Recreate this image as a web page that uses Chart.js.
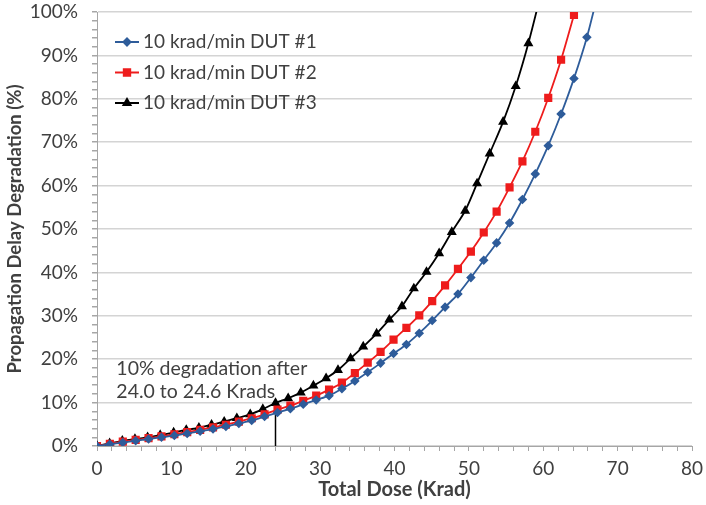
<!DOCTYPE html>
<html>
<head>
<meta charset="utf-8">
<script src="https://cdn.jsdelivr.net/npm/chart.js@4.4.0/dist/chart.umd.min.js"></script>
<style>
    html, body { margin: 0; padding: 0; background: #fff; }
    #wrap { width: 706px; height: 505px; }
</style>
</head>
<body>
<div id="wrap"><canvas id="myChart"></canvas></div>
<script>
// dose readings (Krad) for DUT #1 and #2
var doseX = [0, 1.73, 3.47, 5.2, 6.93, 8.67, 10.4, 12.13, 13.87, 15.6, 17.33, 19.07, 20.8, 22.53, 24.27, 26.0, 27.73, 29.47, 31.2, 32.93,
    34.67, 36.4, 38.13, 39.87, 41.6, 43.33, 45.07, 46.8, 48.53, 50.27, 52.0, 53.73, 55.47, 57.2, 58.93, 60.67, 62.4, 64.13, 65.87, 67.6];
var dut1 = [0, 0.4, 0.8, 1.2, 1.6, 2.0, 2.4, 2.9, 3.4, 3.9, 4.5, 5.2, 5.9, 6.8, 7.7, 8.6, 9.6, 10.6, 11.6, 13.2,
    15.0, 17.0, 19.1, 21.3, 23.4, 26.0, 28.9, 32.0, 35.0, 38.8, 42.8, 46.8, 51.4, 56.8, 62.7, 69.2, 76.5, 84.7, 94.2, 106];
var dut2 = [0, 0.5, 1.0, 1.4, 1.8, 2.2, 2.7, 3.2, 3.7, 4.3, 4.9, 5.6, 6.4, 7.3, 8.4, 9.3, 10.4, 11.6, 13.0, 14.6,
    16.8, 19.2, 21.7, 24.5, 27.2, 30.1, 33.4, 37.0, 40.8, 44.8, 49.2, 54.0, 59.6, 65.6, 72.4, 80.2, 89.0, 99.3];
// DUT #3 readings
var doseX3 = [0, 1.7, 3.4, 5.1, 6.8, 8.5, 10.3, 12.0, 13.7, 15.4, 17.1, 18.8, 20.6, 22.3, 24.0, 25.7, 27.4, 29.1, 30.8, 32.4,
    34.1, 35.8, 37.6, 39.3, 41.0, 42.6, 44.3, 46.0, 47.7, 49.5, 51.1, 52.8, 54.6, 56.3, 58.0, 59.8];
var dut3 = [0, 0.6, 1.2, 1.6, 2.0, 2.5, 3.1, 3.7, 4.2, 4.9, 5.6, 6.4, 7.3, 8.5, 9.9, 11.0, 12.3, 13.9, 15.6, 17.5,
    20.2, 22.9, 25.9, 29.1, 32.2, 36.3, 40.1, 44.4, 49.3, 54.2, 60.5, 67.4, 74.7, 82.9, 92.8, 105];

var seriesNames = ['10 krad/min DUT #1', '10 krad/min DUT #2', '10 krad/min DUT #3'];
var xTicks = [0, 10, 20, 30, 40, 50, 60, 70, 80];
var yTicks = [0, 10, 20, 30, 40, 50, 60, 70, 80, 90, 100];

// marker line at 24 Krad up to 10%
var markerX = [24, 24];
var markerY = [0, 10];
var noteLines = ['10% degradation after', '24.0 to 24.6 Krads'];
var noteX = 2.6;
var noteY = [17.9, 12.4];

var textColor = '#404040';
var fontName = 'Lato';

function pts(xs, ys){
    let out = [];
    for (let i = 0; i < ys.length; i++) {
        out.push({x: xs[i], y: ys[i]});
    }
    return out;
}

var datasets = [{
    label: seriesNames[0],
    data: pts(doseX, dut1),
    borderColor: '#2e5c9a',
    backgroundColor: '#2e5c9a',
    pointStyle: 'rectRot',
    pointRadius: 3.5,
    borderWidth: 1.8,
    tension: 0.3
}, {
    label: seriesNames[1],
    data: pts(doseX, dut2),
    borderColor: '#ee1c1c',
    backgroundColor: '#ee1c1c',
    pointStyle: 'rect',
    pointRadius: 4.5,
    borderWidth: 1.8,
    tension: 0.3
}, {
    label: seriesNames[2],
    data: pts(doseX3, dut3),
    borderColor: '#000000',
    backgroundColor: '#000000',
    pointStyle: 'triangle',
    pointRadius: 4,
    borderWidth: 1.8,
    tension: 0.3
}, {
    label: 'marker',
    data: pts(markerX, markerY),
    borderColor: '#000000',
    borderWidth: 1.5,
    pointRadius: 0,
    tension: 0
}];

const notePlugin = {
    id: 'notePlugin',
    afterDatasetsDraw(chart){
        const ctx = chart.ctx;
        const xs = chart.scales.x;
        const ys = chart.scales.y;
        ctx.save();
        ctx.fillStyle = textColor;
        ctx.font = '19.5px ' + fontName;
        ctx.textAlign = 'left';
        ctx.textBaseline = 'middle';
        for (let i = 0; i < noteLines.length; i++) {
            ctx.fillText(noteLines[i], xs.getPixelForValue(noteX), ys.getPixelForValue(noteY[i]));
        }

        // legend inside the plot, top left
        const area = chart.chartArea;
        ctx.font = '19px ' + fontName;
        for (let i = 0; i < 3; i++) {
            const ds = chart.data.datasets[i];
            const yy = area.top + 30 + i * 30.5;
            const x0 = area.left + 18;
            ctx.strokeStyle = ds.borderColor;
            ctx.lineWidth = 2;
            ctx.beginPath();
            ctx.moveTo(x0, yy);
            ctx.lineTo(x0 + 24, yy);
            ctx.stroke();
            ctx.fillStyle = ds.backgroundColor;
            Chart.helpers.drawPoint(ctx, {pointStyle: ds.pointStyle, radius: ds.pointRadius, borderWidth: 1, rotation: 0}, x0 + 12, yy);
            ctx.fillStyle = textColor;
            ctx.fillText(ds.label, x0 + 28, yy);
        }
        ctx.restore();
    }
};

new Chart('myChart', {
    type: 'line',
    data: { datasets: datasets },
    options: {
        responsive: true,
        maintainAspectRatio: false,
        animation: false,
        layout: { padding: { top: 12, right: 14, left: 0, bottom: 0 } },
        plugins: {
            legend: { display: false },
            tooltip: { enabled: false }
        },
        scales: {
            x: {
                type: 'linear',
                min: 0,
                max: 80,
                afterFit: function(scale){
                    scale.height = 59;
                    scale.paddingLeft = 0;
                    scale.paddingRight = 0;
                },
                afterBuildTicks: function(scale){
                    let t = [];
                    for (let v = 0; v <= 80; v += 2) t.push({value: v});
                    scale.ticks = t;
                },
                ticks: {
                    autoSkip: false,
                    maxRotation: 0,
                    padding: 6,
                    color: textColor,
                    font: { family: fontName, size: 19 },
                    callback: v => xTicks.includes(v) ? String(v) : ''
                },
                grid: {
                    drawOnChartArea: false,
                    color: '#a6a6a6',
                    tickLength: 5
                },
                border: { color: '#a6a6a6' },
                title: {
                    display: true,
                    text: 'Total Dose (Krad)',
                    color: textColor,
                    font: { family: fontName, size: 20, weight: 'bold' },
                    padding: { top: 0, bottom: 3 }
                }
            },
            y: {
                min: 0,
                max: 100,
                afterFit: function(scale){
                    scale.width = 97;
                    scale.paddingTop = 0;
                    scale.paddingBottom = 0;
                },
                afterBuildTicks: function(scale){
                    let t = [];
                    for (let v = 0; v <= 100; v += 2) t.push({value: v});
                    scale.ticks = t;
                },
                ticks: {
                    autoSkip: false,
                    padding: 14,
                    color: textColor,
                    font: { family: fontName, size: 19 },
                    callback: v => yTicks.includes(v) ? v + '%' : ''
                },
                grid: {
                    color: ctx => (ctx.tick && yTicks.includes(ctx.tick.value)) ? '#d4d4d4' : 'rgba(0,0,0,0)',
                    tickColor: '#a6a6a6',
                    lineWidth: 1.5,
                    tickLength: 5
                },
                border: { color: '#a6a6a6' },
                title: {
                    display: true,
                    text: 'Propagation Delay Degradation (%)',
                    color: textColor,
                    font: { family: fontName, size: 18.5, weight: 'bold' },
                    padding: { top: 4, bottom: 0 }
                }
            }
        }
    },
    plugins: [notePlugin]
});
</script>
</body>
</html>
